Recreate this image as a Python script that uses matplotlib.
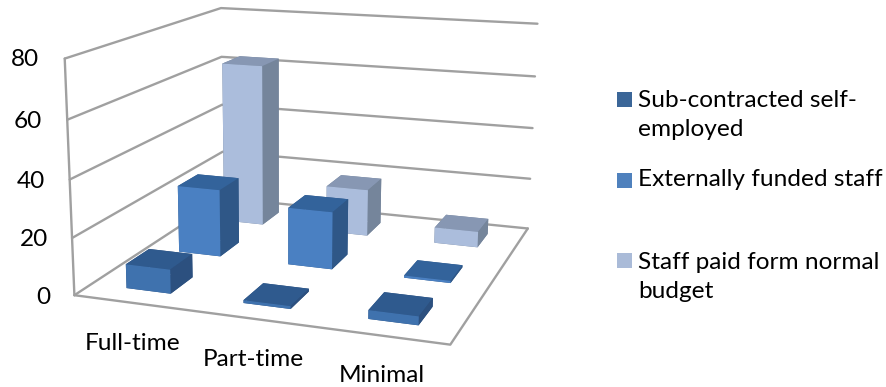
import numpy as np
import matplotlib
matplotlib.use("Agg")
import matplotlib.pyplot as plt

plt.rcParams['font.family'] = ['Lato', 'DejaVu Sans']

categories = ["Full-time", "Part-time", "Minimal"]
series_names = ["Sub-contracted self-\nemployed", "Externally funded staff", "Staff paid form normal\nbudget"]
sub_contracted = [8.5, 1, 3]
externally_funded = [25, 21, 0.8]
normal_budget = [63, 18, 6]
y_ticks = [0, 20, 40, 60, 80]

# front / top / side colours for each series
face_colors = ["#3f72ae", "#4a80c2", "#abbddc"]
top_colors = ["#2f5a8e", "#33639b", "#8797b3"]
side_colors = ["#2c507f", "#2f5787", "#75859b"]
legend_colors = ["#3b6698", "#4f81bd", "#aabbd8"]

W, H = 887, 387
BAR_W = 0.385
BAR_D = 0.42
FONT = 17.6

# where the box corners should land on the canvas, used to solve the camera
box_pts = [(0, 0, 0), (3, 0, 0), (3, 3, 0), (0, 3, 0), (0, 0, 80), (0, 3, 80), (3, 3, 80),
           (0, 0, 40), (0, 3, 40), (3, 3, 40)]
px_pts = [(75, 296), (450, 345), (528, 228), (222, 198), (63, 59), (222, 8), (537, 24),
          (71, 178), (222, 105), (533, 128)]


def solve_camera(world, pixels):
    rows, rhs = [], []
    for (x, y, z), (u, v) in zip(world, pixels):
        rows.append([x, y, z, 1, 0, 0, 0, 0, -u * x, -u * y, -u * z])
        rows.append([0, 0, 0, 0, x, y, z, 1, -v * x, -v * y, -v * z])
        rhs += [u, v]
    scale = np.array([1, 1, 1 / 80, 1, 1, 1, 1 / 80, 1, 1, 1, 1 / 80])
    p = np.linalg.lstsq(np.array(rows) * scale, np.array(rhs, float), rcond=None)[0] * scale
    return np.array([p[:4], p[4:8], [0, 0, 0, -1], [p[8], p[9], p[10], 1]])


camera = solve_camera(box_pts, px_pts)

fig = plt.figure(figsize=(W / 100, H / 100), dpi=100)
ax = fig.add_axes([0, 0, 1, 1], projection='3d')
ax.set_proj_type('ortho')  # keeps Line3D from clipping to the unit cube
ax.get_proj = lambda: camera
ax.apply_aspect = lambda position=None: None
ax.set_axis_off()

# walls and floor outline
wall = dict(color="#a0a0a0", lw=1.7, solid_capstyle='round')
for t in y_ticks:
    ax.plot([0, 0, 3], [0, 3, 3], [t, t, t], zorder=1, **wall)
ax.plot([0, 0], [0, 0], [0, 80], zorder=1, **wall)
ax.plot([0, 3, 3], [0, 0, 3], [0, 0, 0], zorder=1, **wall)

# one bar3d per bar, back row first so nearer rows paint over it
ax.computed_zorder = False
all_series = [sub_contracted, externally_funded, normal_budget]
for row in range(2, -1, -1):
    for col, val in enumerate(all_series[row]):
        colors = [side_colors[row], top_colors[row], face_colors[row],
                  side_colors[row], side_colors[row], side_colors[row]]
        ax.bar3d(col + 0.5 - BAR_W / 2, row + 0.5 - BAR_D / 2, 0, BAR_W, BAR_D, val,
                 color=colors, shade=False, linewidth=0, zorder=10 - row)

ax.viewLim.intervalx = (0, W)
ax.viewLim.intervaly = (H, 0)

# value axis labels
tick_pos = [(50, 297), (48, 239), (45, 182), (42, 121), (39, 60)]
for t, (x, y) in zip(y_ticks, tick_pos):
    fig.text(x / W, 1 - y / H, str(t), fontsize=FONT, ha='right', va='center', color="black")

cat_pos = [(133, 343), (253, 360), (382, 375)]
for c, (x, y) in zip(categories, cat_pos):
    fig.text(x / W, 1 - y / H, c, fontsize=FONT, ha='center', va='center', color="black")

# legend
legend_pos = [(92, 115), (173, 180), (253, 277)]
for name, col, (sq_y, txt_y) in zip(series_names, legend_colors, legend_pos):
    fig.patches.append(plt.Rectangle((617 / W, 1 - (sq_y + 15) / H), 15 / W, 15 / H, transform=fig.transFigure,
                                     facecolor=col, edgecolor='none', figure=fig))
    fig.text(638 / W, 1 - txt_y / H, name, fontsize=FONT, ha='left', va='center', color="black", linespacing=1.5)

fig.savefig("out.png", dpi=100)
